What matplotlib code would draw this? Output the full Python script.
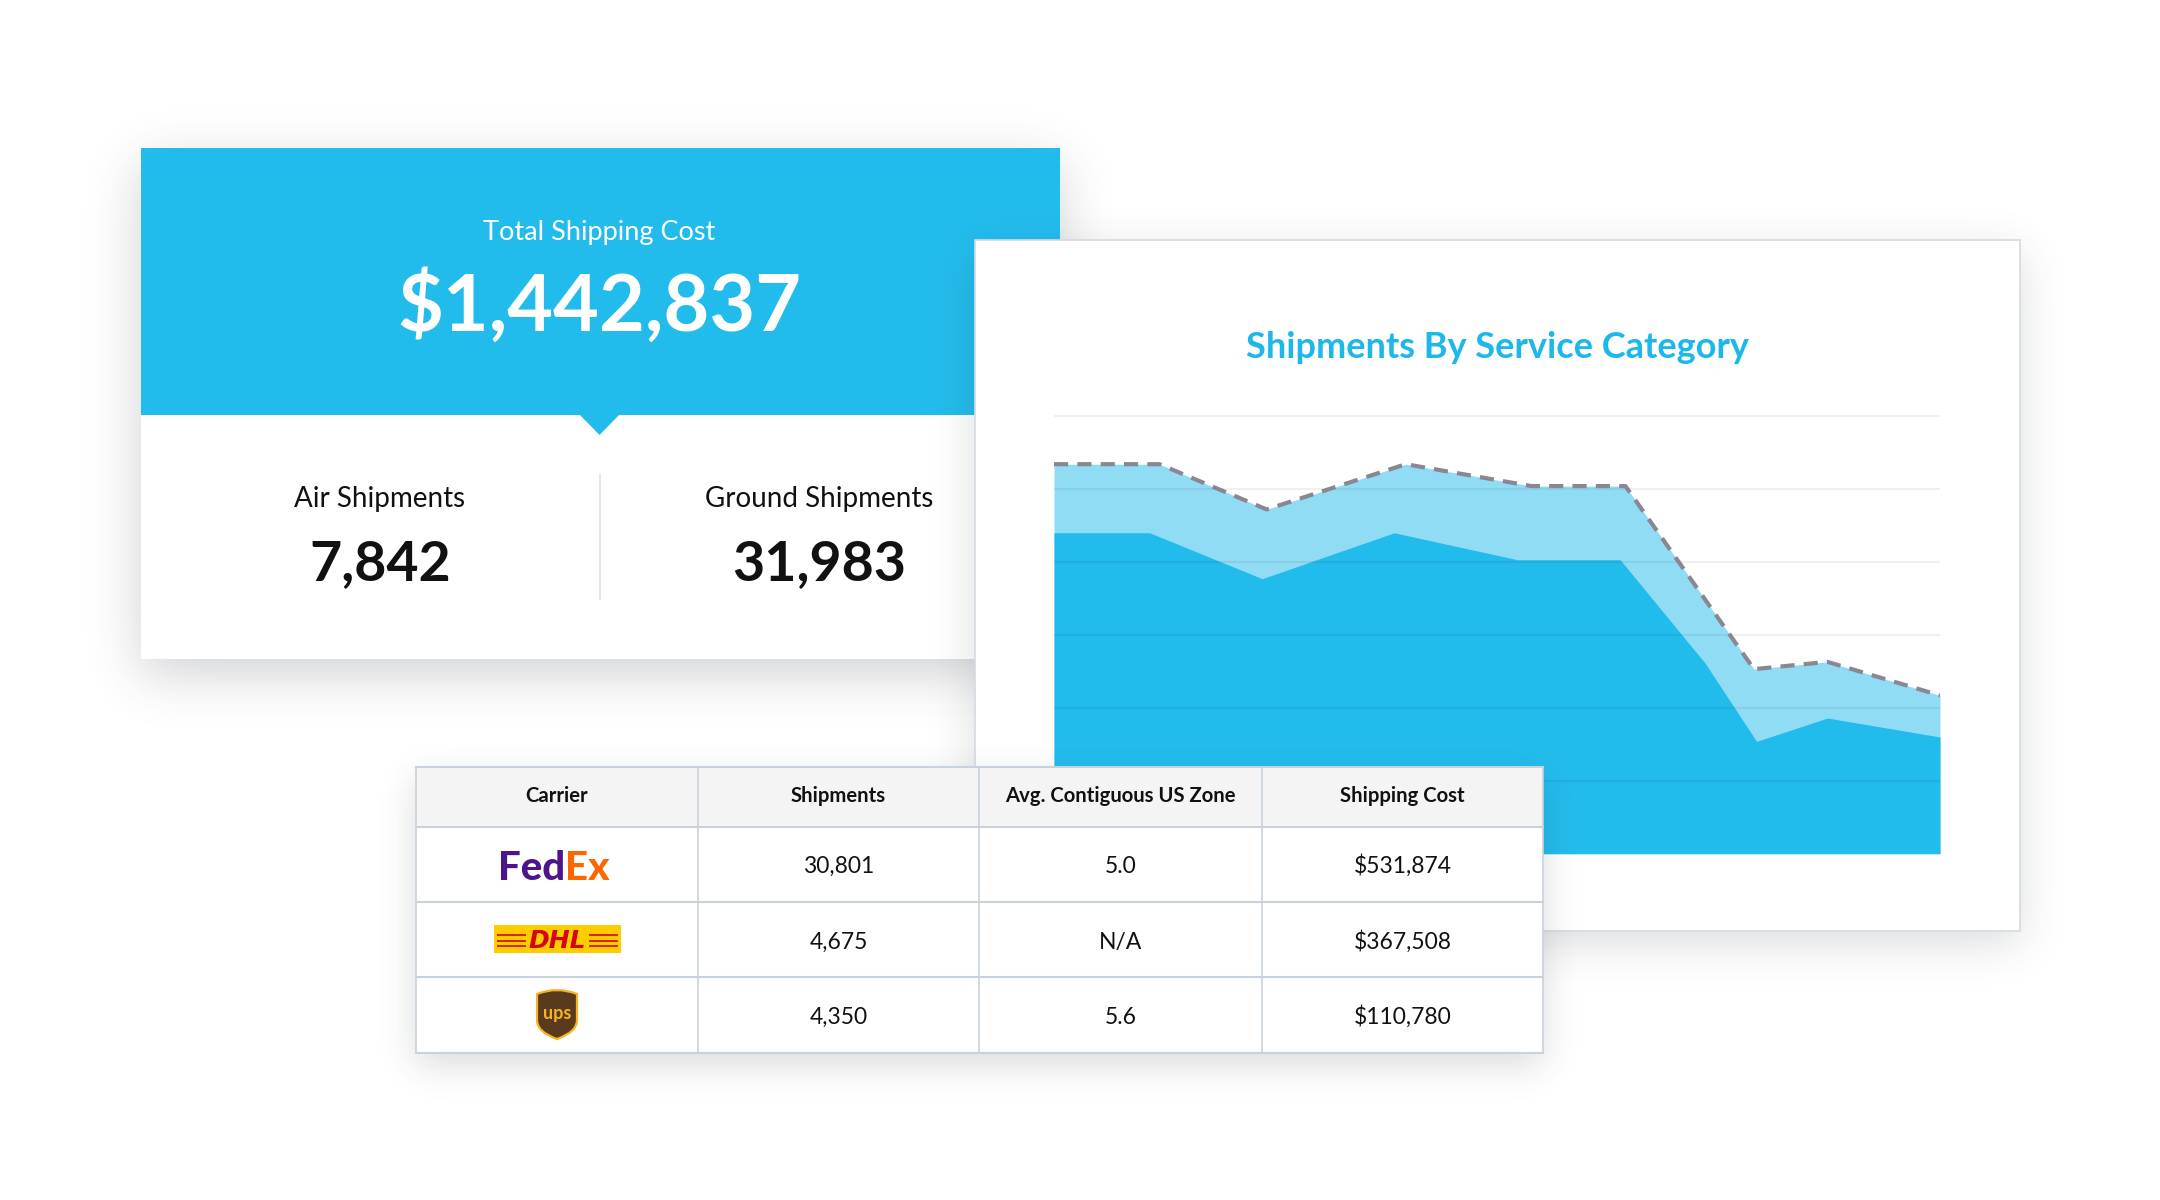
import math
import numpy as np
import matplotlib
matplotlib.use("Agg")
import matplotlib.pyplot as plt
from matplotlib.patches import Rectangle, Polygon, PathPatch
from matplotlib.path import Path

# ---------------- data ----------------
total_cost = 1442837
air_shipments = 7842
ground_shipments = 31983

table_headers = ["Carrier", "Shipments", "Avg. Contiguous US Zone", "Shipping Cost"]
carriers = ["FedEx", "DHL", "UPS"]
carrier_shipments = [30801, 4675, 4350]
carrier_zone = ["5.0", "N/A", "5.6"]
carrier_cost = [531874, 367508, 110780]

# chart: total shipments (dashed outline, light band) and ground (dark), in thousands
total_x = [0, 11.9, 24.0, 39.7, 53.9, 64.5, 79.0, 87.3, 100]
total_k = [5.34, 5.34, 4.72, 5.34, 5.04, 5.04, 2.53, 2.63, 2.17]
ground_x = [0, 10.8, 23.5, 38.4, 52.3, 63.9, 73.5, 79.3, 87.3, 100]
ground_k = [4.40, 4.40, 3.77, 4.40, 4.03, 4.03, 2.61, 1.54, 1.86, 1.60]
grid_k = [1, 2, 3, 4, 5, 6]

# ---------------- style ----------------
W, H = 2160, 1200
BLUE = "#22BCEC"
LIGHT = "#90DCF4"
TXT = "#111111"
plt.rcParams["font.family"] = ["Lato", "DejaVu Sans"]

fig = plt.figure(figsize=(W / 100, H / 100), dpi=100)
fig.patch.set_facecolor("white")


def canvas(z):
    a = fig.add_axes([0, 0, 1, 1])
    a.set_xlim(0, W)
    a.set_ylim(H, 0)
    a.axis("off")
    a.set_zorder(z)
    a.patch.set_visible(False)
    return a


verf = np.vectorize(math.erf)
xs = np.arange(W) + 0.5
ys = np.arange(H) + 0.5


def shadow(a, x0, y0, x1, y1, dy, s, alpha, z):
    k = s * math.sqrt(2)
    fx = 0.5 * (verf((xs - x0) / k) - verf((xs - x1) / k))
    fy = 0.5 * (verf((ys - y0 - dy) / k) - verf((ys - y1 - dy) / k))
    img = np.zeros((H, W, 4))
    img[..., 0] = 0.18
    img[..., 1] = 0.2
    img[..., 2] = 0.24
    img[..., 3] = alpha * np.outer(fy, fx)
    a.imshow(img, extent=(0, W, H, 0), origin="upper", zorder=z,
             interpolation="bilinear", aspect="auto")
    a.set_xlim(0, W)
    a.set_ylim(H, 0)


bg = canvas(0)

# ---- left KPI card ----
shadow(bg, 140.5, 147.5, 1059.5, 658.5, 16, 26, 0.22, 1)
bg.add_patch(Rectangle((140.5, 147.5), 919, 511, fc="white", lw=0, zorder=2))
bg.add_patch(Rectangle((140.5, 147.5), 919, 267.5, fc=BLUE, lw=0, zorder=2.1))
bg.add_patch(Polygon([(579, 414), (620, 414), (599.5, 435)], closed=True,
                     fc=BLUE, lw=0, zorder=2.1))
bg.text(599.5, 240, "Total Shipping Cost", ha="center", va="baseline",
        color="white", fontsize=19.5, fontweight="normal", zorder=3)
bg.text(599.5, 331, f"${total_cost:,}", ha="center", va="baseline",
        color="white", fontsize=57, fontweight="bold", zorder=3)
bg.text(380, 507, "Air Shipments", ha="center", va="baseline",
        color=TXT, fontsize=20, zorder=3)
bg.text(380, 580, f"{air_shipments:,}", ha="center", va="baseline",
        color=TXT, fontsize=40, fontweight="bold", zorder=3)
bg.text(819, 507, "Ground Shipments", ha="center", va="baseline",
        color=TXT, fontsize=20, zorder=3)
bg.text(819, 580, f"{ground_shipments:,}", ha="center", va="baseline",
        color=TXT, fontsize=40, fontweight="bold", zorder=3)
bg.plot([599.5, 599.5], [475, 599], color="#E6E6E6", lw=1.5, zorder=3)

# ---- chart card ----
shadow(bg, 975, 240, 2020, 931, 12, 22, 0.17, 4)
bg.add_patch(Rectangle((975, 240), 1045, 691, fc="white", ec="#D3DAE2",
                       lw=1.2, zorder=5))
bg.text(1497.5, 358, "Shipments By Service Category", ha="center",
        va="baseline", color="#1DB8EA", fontsize=26, fontweight="bold", zorder=6)

# ---- area chart ----
top_px, base_px = 412.4, 853.7
ax = fig.add_axes([1054 / W, 1 - base_px / H, (1940 - 1054) / W,
                   (base_px - top_px) / H])
ax.set_zorder(1)
ax.patch.set_visible(False)
ax.fill_between(total_x, total_k, color=LIGHT, lw=0, zorder=1)
ax.fill_between(ground_x, ground_k, color=BLUE, lw=0, zorder=1.5)
ax.plot(total_x, total_k, color="#8A8792", lw=3, ls=(0, (3.4, 2.2)),
        zorder=3, dash_capstyle="butt")
ax.set_xlim(0, 100)
ax.set_ylim(0, 6.05)
ax.set_yticks(grid_k)
ax.set_xticks([])
ax.tick_params(length=0, labelleft=False)
ax.grid(axis="y", color="black", alpha=0.06, lw=1.5)
ax.set_axisbelow(False)
for sp in ax.spines.values():
    sp.set_visible(False)

# ---- table ----
ov = canvas(2)
col_edges = [416, 698, 979, 1262, 1543]
row_edges = [767, 826.5, 901.5, 977, 1052.5]
shadow(ov, col_edges[0], row_edges[0], col_edges[-1], row_edges[-1], 12, 18, 0.18, 1)
ov.add_patch(Rectangle((col_edges[0], row_edges[0]), col_edges[-1] - col_edges[0],
                       row_edges[-1] - row_edges[0], fc="white", lw=0, zorder=2))
ov.add_patch(Rectangle((col_edges[0], row_edges[0]), col_edges[-1] - col_edges[0],
                       row_edges[1] - row_edges[0], fc="#F4F4F4", lw=0, zorder=2.1))
LC = "#C8D2DC"
for xe in col_edges:
    ov.plot([xe, xe], [row_edges[0], row_edges[-1]], color=LC, lw=1.2, zorder=3)
for ye in row_edges:
    ov.plot([col_edges[0], col_edges[-1]], [ye, ye], color=LC, lw=1.5, zorder=3)

centers = [(col_edges[i] + col_edges[i + 1]) / 2 for i in range(4)]
for c, h in zip(centers, table_headers):
    ov.text(c, 802.5, h, ha="center", va="baseline", color=TXT,
            fontsize=14.6, fontweight="bold", zorder=4)

baselines = [873, 948.5, 1023.5]
for i in range(3):
    ov.text(centers[1], baselines[i], f"{carrier_shipments[i]:,}", ha="center",
            va="baseline", color=TXT, fontsize=16.5, zorder=4)
    ov.text(centers[2], baselines[i], carrier_zone[i], ha="center",
            va="baseline", color=TXT, fontsize=16.5, zorder=4)
    ov.text(centers[3], baselines[i], f"${carrier_cost[i]:,}", ha="center",
            va="baseline", color=TXT, fontsize=16.5, zorder=4)

# FedEx logo
ov.text(565, 880, "Fed", ha="right", va="baseline", color="#4D148C",
        fontsize=29, fontweight="black", zorder=4)
ov.text(565, 880, "Ex", ha="left", va="baseline", color="#FF6600",
        fontsize=29, fontweight="black", zorder=4)

# DHL logo
ov.add_patch(Rectangle((494, 925), 127, 28, fc="#FFCC00", lw=0, zorder=4))
for yy in (935, 940.5, 946):
    ov.plot([497, 526], [yy, yy], color="#D40511", lw=1.2, zorder=5,
            solid_capstyle="butt")
    ov.plot([589, 618], [yy, yy], color="#D40511", lw=1.2, zorder=5,
            solid_capstyle="butt")
ov.text(557.5, 947.5, "DHL", ha="center", va="baseline", color="#D40511",
        fontsize=18, fontweight="bold", style="italic",
        family=["DejaVu Sans"], zorder=6)

# UPS logo
verts = [(537, 994), (557, 986), (577, 994), (577, 1020), (577, 1032),
         (557, 1039), (537, 1032), (537, 1020), (537, 994)]
codes = [Path.MOVETO, Path.CURVE3, Path.CURVE3, Path.LINETO, Path.CURVE3,
         Path.CURVE3, Path.CURVE3, Path.CURVE3, Path.CLOSEPOLY]
ov.add_patch(PathPatch(Path(verts, codes), fc="#5A3A1C", ec="#F6B420",
                       lw=1.6, zorder=4))
ov.text(557, 1019, "ups", ha="center", va="baseline", color="#F6B420",
        fontsize=13, fontweight="bold", zorder=5)

fig.savefig("out.png", dpi=100, facecolor="white")
